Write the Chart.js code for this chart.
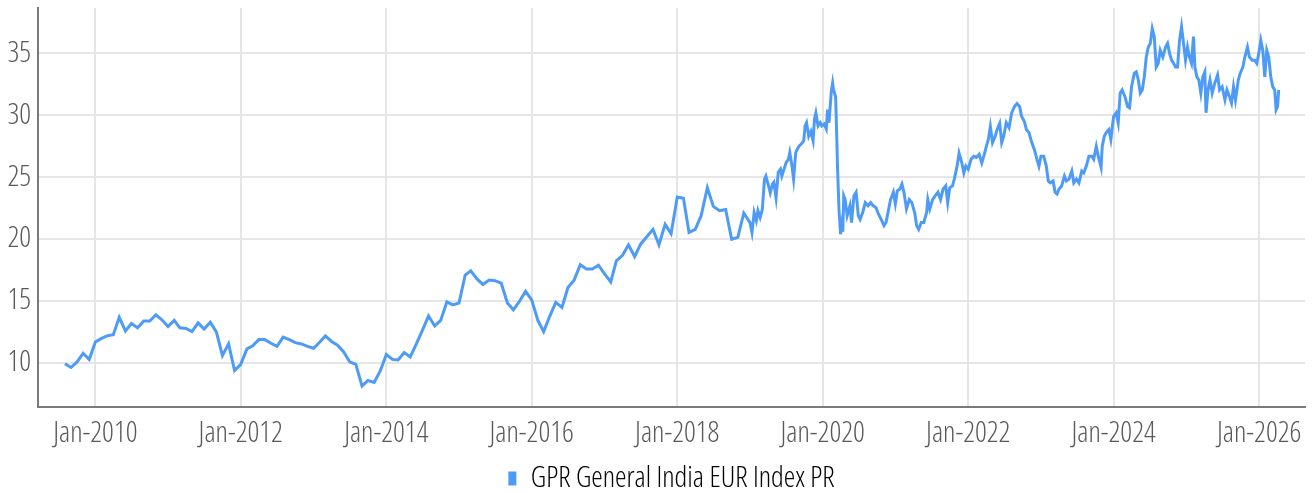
<!DOCTYPE html>
<html>
<head>
<meta charset="utf-8">
<script src="https://cdn.jsdelivr.net/npm/chart.js@4/dist/chart.umd.min.js"></script>
<style>
  html, body { margin: 0; padding: 0; background: #ffffff; }
  #wrap { width: 1315px; height: 493px; position: relative; }
</style>
</head>
<body>
<div id="wrap"><canvas id="c" width="1315" height="493"></canvas></div>
<script>
const seriesName = "GPR General India EUR Index PR";

// Monthly observations (first day of month), Aug 2009 - Dec 2018
const monthlyDates = [
  "2009-08","2009-09","2009-10","2009-11","2009-12",
  "2010-01","2010-02","2010-03","2010-04","2010-05","2010-06","2010-07","2010-08","2010-09","2010-10","2010-11","2010-12",
  "2011-01","2011-02","2011-03","2011-04","2011-05","2011-06","2011-07","2011-08","2011-09","2011-10","2011-11","2011-12",
  "2012-01","2012-02","2012-03","2012-04","2012-05","2012-06","2012-07","2012-08","2012-09","2012-10","2012-11","2012-12",
  "2013-01","2013-02","2013-03","2013-04","2013-05","2013-06","2013-07","2013-08","2013-09","2013-10","2013-11","2013-12",
  "2014-01","2014-02","2014-03","2014-04","2014-05","2014-06","2014-07","2014-08","2014-09","2014-10","2014-11","2014-12",
  "2015-01","2015-02","2015-03","2015-04","2015-05","2015-06","2015-07","2015-08","2015-09","2015-10","2015-11","2015-12",
  "2016-01","2016-02","2016-03","2016-04","2016-05","2016-06","2016-07","2016-08","2016-09","2016-10","2016-11","2016-12",
  "2017-01","2017-02","2017-03","2017-04","2017-05","2017-06","2017-07","2017-08","2017-09","2017-10","2017-11","2017-12",
  "2018-01","2018-02","2018-03","2018-04","2018-05","2018-06","2018-07","2018-08","2018-09","2018-10","2018-11","2018-12"
];
const monthlyValues = [
  9.95, 9.65, 10.1, 10.8, 10.3,
  11.7, 12.0, 12.2, 12.3, 13.7, 12.6, 13.2, 12.85, 13.4, 13.4, 13.9, 13.5,
  12.95, 13.45, 12.85, 12.8, 12.55, 13.25, 12.75, 13.3, 12.5, 10.6, 11.55, 9.4,
  9.9, 11.15, 11.4, 11.9, 11.9, 11.6, 11.35, 12.1, 11.9, 11.65, 11.55, 11.35,
  11.2, 11.7, 12.2, 11.75, 11.45, 10.9, 10.1, 9.9, 8.15, 8.6, 8.45, 9.35,
  10.7, 10.3, 10.25, 10.85, 10.5, 11.55, 12.65, 13.8, 13.0, 13.45, 14.95, 14.7,
  14.85, 17.1, 17.45, 16.8, 16.35, 16.7, 16.65, 16.45, 14.85, 14.3, 15.0, 15.8,
  15.1, 13.45, 12.55, 13.8, 14.9, 14.5, 16.1, 16.7, 17.95, 17.6, 17.6, 17.9,
  17.2, 16.55, 18.25, 18.7, 19.55, 18.6, 19.6, 20.2, 20.8, 19.55, 21.2, 20.45,
  23.4, 23.3, 20.55, 20.8, 21.9, 24.15, 22.65, 22.3, 22.4, 20.0, 20.15, 22.1
];

// Higher-frequency observations, 2019 - Apr 2026
const dailyDates = [
  "2019-01-01","2019-01-11","2019-01-22","2019-02-02","2019-02-10","2019-02-21","2019-03-04","2019-03-15","2019-03-22",
  "2019-04-02","2019-04-13","2019-04-24","2019-05-01","2019-05-12","2019-05-23","2019-06-03","2019-06-10","2019-06-21",
  "2019-07-02","2019-07-13","2019-07-20","2019-07-31","2019-08-08","2019-08-19","2019-08-26","2019-09-06","2019-09-17",
  "2019-09-28","2019-10-05","2019-10-12","2019-10-23","2019-11-03","2019-11-14","2019-11-21","2019-11-28","2019-12-09",
  "2019-12-20","2019-12-28","2020-01-08","2020-01-19","2020-01-26","2020-02-02","2020-02-13","2020-02-20","2020-02-24",
  "2020-03-06","2020-03-09","2020-03-16","2020-03-23","2020-03-31","2020-04-07","2020-04-11","2020-04-16","2020-04-23",
  "2020-05-03","2020-05-17","2020-05-25","2020-06-06","2020-06-17","2020-06-28","2020-07-07","2020-07-20","2020-08-02",
  "2020-08-16","2020-08-29","2020-09-11","2020-09-25","2020-10-08","2020-10-21","2020-11-04","2020-11-14","2020-11-24",
  "2020-12-07","2020-12-21","2020-12-31","2021-01-10","2021-01-23","2021-02-02","2021-02-12","2021-02-25","2021-03-11",
  "2021-03-24","2021-04-07","2021-04-17","2021-04-27","2021-05-10","2021-05-23","2021-06-06","2021-06-12","2021-06-22",
  "2021-07-06","2021-07-19","2021-08-02","2021-08-15","2021-08-28","2021-09-10","2021-09-20","2021-09-30","2021-10-14",
  "2021-10-23","2021-11-06","2021-11-16","2021-11-30","2021-12-10","2021-12-20","2022-01-01","2022-01-15","2022-01-29",
  "2022-02-11","2022-02-25","2022-03-10","2022-03-20","2022-04-02","2022-04-12","2022-04-22","2022-05-03","2022-05-16",
  "2022-05-26","2022-06-08","2022-06-18","2022-06-28","2022-07-11","2022-07-25","2022-08-07","2022-08-21","2022-09-03",
  "2022-09-16","2022-09-26","2022-10-10","2022-10-20","2022-11-02","2022-11-16","2022-11-29","2022-12-12","2022-12-22",
  "2023-01-01","2023-01-15","2023-01-28","2023-02-07","2023-02-17","2023-03-03","2023-03-13","2023-03-23","2023-04-02",
  "2023-04-15","2023-04-29","2023-05-09","2023-05-22","2023-06-05","2023-06-15","2023-06-28","2023-07-11","2023-07-25",
  "2023-08-04","2023-08-17","2023-08-30","2023-09-13","2023-09-23","2023-10-06","2023-10-16","2023-10-30","2023-11-05",
  "2023-11-15","2023-11-25","2023-12-08","2023-12-18","2024-01-01","2024-01-14","2024-01-24","2024-02-03","2024-02-13",
  "2024-02-27","2024-03-11","2024-03-21","2024-03-31","2024-04-14","2024-04-24","2024-05-04","2024-05-14","2024-05-24",
  "2024-06-03","2024-06-13","2024-06-23","2024-07-03","2024-07-13","2024-07-23","2024-08-02","2024-08-12","2024-08-22",
  "2024-09-04","2024-09-18","2024-09-28","2024-10-08","2024-10-18","2024-10-28","2024-11-07","2024-11-17","2024-11-27",
  "2024-12-07","2024-12-17","2024-12-27","2025-01-06","2025-01-16","2025-01-26","2025-02-05","2025-02-12","2025-02-22",
  "2025-03-04","2025-03-14","2025-03-24","2025-04-03","2025-04-09","2025-04-19","2025-04-29","2025-05-10","2025-05-23",
  "2025-06-06","2025-06-16","2025-06-29","2025-07-13","2025-07-23","2025-08-05","2025-08-15","2025-08-25","2025-09-04",
  "2025-09-18","2025-09-28","2025-10-11","2025-10-21","2025-11-03","2025-11-13","2025-11-27","2025-12-10","2025-12-20",
  "2025-12-30","2026-01-09","2026-01-19","2026-01-29","2026-02-08","2026-02-18","2026-02-28","2026-03-10","2026-03-20",
  "2026-03-27","2026-04-03","2026-04-09"
];
const dailyValues = [
  21.35, 20.55, 22.15, 21.5, 22.3, 21.75, 22.4, 24.85, 25.1,
  24.45, 23.75, 24.45, 24.6, 23.35, 25.4, 25.65, 25.1, 25.65,
  26.2, 26.45, 27.0, 25.9, 24.85, 27.0, 27.25, 27.55, 27.7,
  27.95, 29.15, 29.4, 28.3, 28.7, 27.95, 29.7, 30.2, 29.15,
  29.4, 29.15, 29.3, 28.9, 30.45, 29.4, 31.85, 32.6, 32.1,
  31.5, 29.95, 25.65, 22.4, 20.4, 21.3, 20.6, 23.5, 23.2,
  21.9, 22.7, 21.35, 23.5, 23.8, 21.9, 21.6, 22.15, 22.95,
  22.7, 22.95, 22.7, 22.55, 22.0, 21.6, 21.1, 21.35, 22.15,
  23.2, 23.8, 22.85, 23.9, 24.05, 24.45, 23.8, 22.45, 23.2,
  22.95, 22.15, 21.1, 20.8, 21.35, 21.35, 22.15, 23.2, 22.45,
  23.2, 23.5, 23.8, 23.2, 24.05, 24.3, 22.95, 24.15, 24.3,
  24.85, 25.9, 26.95, 26.15, 25.35, 25.9, 25.65, 26.45, 26.7,
  26.6, 26.85, 26.15, 26.7, 27.5, 28.05, 29.1, 27.8, 28.3,
  28.85, 29.35, 27.8, 28.3, 29.4, 29.0, 30.2, 30.7, 30.95,
  30.7, 29.9, 29.5, 28.85, 28.6, 27.8, 27.25, 26.45, 25.9,
  26.7, 26.7, 25.9, 24.7, 24.55, 24.7, 23.8, 23.65, 24.05,
  24.3, 25.1, 24.7, 24.85, 25.5, 24.55, 24.85, 24.55, 25.5,
  25.35, 25.9, 26.7, 26.7, 26.45, 27.5, 26.7, 25.8, 27.5,
  28.3, 28.6, 28.85, 28.05, 29.9, 30.2, 29.4, 31.8, 32.05,
  31.5, 30.7, 30.6, 32.3, 33.4, 33.5, 32.85, 31.8, 32.05,
  33.1, 34.7, 35.5, 35.8, 37.0, 36.35, 33.9, 34.2, 35.25,
  34.7, 35.5, 35.8, 35.0, 34.45, 34.2, 33.9, 33.9, 36.05,
  37.15, 35.8, 34.45, 35.5, 34.7, 34.2, 36.35, 33.9, 33.1,
  32.85, 31.8, 33.1, 33.5, 30.2, 32.05, 32.85, 31.8, 32.6,
  33.25, 32.05, 32.3, 31.25, 32.05, 31.5, 31.0, 32.3, 31.25,
  32.85, 33.4, 33.9, 34.7, 35.5, 34.7, 34.45, 34.45, 34.2,
  35.0, 36.05, 35.25, 33.1, 35.25, 34.7, 33.1, 32.3, 32.05,
  30.45, 30.7, 32.05
];

const tickYears = [2010, 2012, 2014, 2016, 2018, 2020, 2022, 2024, 2026];
const yTicks = [10, 15, 20, 25, 30, 35];
const monthNames = ["Jan","Feb","Mar","Apr","May","Jun","Jul","Aug","Sep","Oct","Nov","Dec"];

const points = [];
monthlyDates.forEach((d, i) => points.push({ x: Date.parse(d + "-01T00:00:00Z"), y: monthlyValues[i] }));
dailyDates.forEach((d, i) => points.push({ x: Date.parse(d + "T00:00:00Z"), y: dailyValues[i] }));

const FAMILY = "'Open Sans', 'Roboto', sans-serif";
const WEIGHT = "condensed 300";   // Open Sans Condensed Light
const TEXT = "#595959";
const BLUE = "#4d9bf7";

new Chart(document.getElementById("c"), {
  type: "line",
  data: {
    datasets: [{
      label: seriesName,
      data: points,
      borderColor: BLUE,
      backgroundColor: BLUE,
      borderWidth: 3,
      pointRadius: 0,
      tension: 0,
      fill: false
    }]
  },
  options: {
    responsive: false,
    animation: false,
    layout: { padding: { left: 0, right: 10, top: 8, bottom: -10 } },
    plugins: {
      tooltip: { enabled: false },
      legend: {
        position: "bottom",
        fullSize: false,
        labels: {
          font: { family: FAMILY, size: 29, weight: WEIGHT },
          color: TEXT,
          boxWidth: 8,
          boxHeight: 14,
          padding: 0,
          generateLabels: () => [{
            text: seriesName,
            fillStyle: BLUE,
            strokeStyle: BLUE,
            lineWidth: 0,
            hidden: false,
            datasetIndex: 0
          }]
        }
      }
    },
    scales: {
      x: {
        type: "linear",
        min: Date.UTC(2009, 2, 19),
        max: Date.UTC(2026, 7, 19),
        afterBuildTicks: (scale) => {
          scale.ticks = tickYears.map(y => ({ value: Date.UTC(y, 0, 1) }));
        },
        afterFit: (scale) => { scale.height = 57; scale.paddingLeft = 0; scale.paddingRight = 0; },
        ticks: {
          autoSkip: false,
          maxRotation: 0,
          padding: 9,
          font: { family: FAMILY, size: 29, weight: WEIGHT },
          color: TEXT,
          callback: (v) => { const d = new Date(v); return monthNames[d.getUTCMonth()] + "-" + d.getUTCFullYear(); }
        },
        grid: { color: "#e6e6e6", lineWidth: 2, drawTicks: false },
        border: { display: true, color: "#7a7a7a", width: 2 }
      },
      y: {
        min: 6.46,
        max: 38.66,
        afterBuildTicks: (scale) => {
          scale.ticks = yTicks.map(v => ({ value: v }));
        },
        afterFit: (scale) => { scale.width = 38; scale.paddingTop = 0; scale.paddingBottom = 0; },
        ticks: {
          padding: 7,
          font: { family: FAMILY, size: 29, weight: WEIGHT },
          color: TEXT
        },
        grid: { color: "#e6e6e6", lineWidth: 2, drawTicks: false },
        border: { display: true, color: "#7a7a7a", width: 2 }
      }
    }
  }
});
</script>
</body>
</html>
